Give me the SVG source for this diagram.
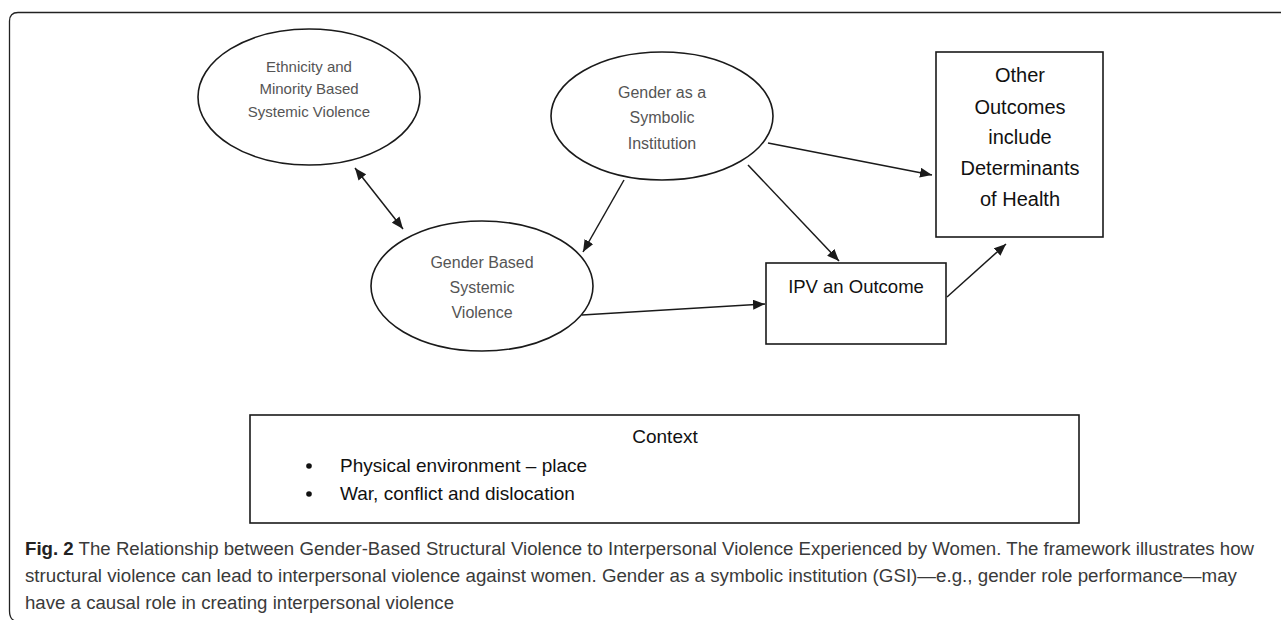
<svg xmlns="http://www.w3.org/2000/svg" width="1281" height="620" viewBox="0 0 1281 620">
<style>
.shape{fill:#fff;stroke:#1a1a1a;stroke-width:1.6}
.edge{fill:none;stroke:#1a1a1a;stroke-width:1.5}
.et{font-family:"Liberation Sans",Arial,sans-serif;fill:#555;text-anchor:middle}
.bt{font-family:"Liberation Sans",Arial,sans-serif;fill:#111;text-anchor:middle}
.ct{font-family:"Liberation Sans",Arial,sans-serif;fill:#111}
.cap{font-family:"Liberation Sans",Arial,sans-serif;fill:#3a3a3a;font-size:18px}
</style>
<defs>
<marker id="ah" viewBox="0 0 12 10" refX="12" refY="5" markerWidth="12" markerHeight="10" markerUnits="userSpaceOnUse" orient="auto-start-reverse">
<path d="M0,0 L12,5 L0,10 z" fill="#1a1a1a"/>
</marker>
</defs>
<rect width="1281" height="620" fill="#fff"/>
<path d="M1281,12.5 H18 Q9.5,12.5 9.5,21 V611 Q9.5,619 15,621" fill="none" stroke="#222" stroke-width="1.3"/>

<g id="connectors">
<line class="edge" x1="355" y1="168" x2="403" y2="229" marker-start="url(#ah)" marker-end="url(#ah)"/>
<line class="edge" x1="624" y1="180" x2="583" y2="252" marker-end="url(#ah)"/>
<line class="edge" x1="768" y1="143" x2="932" y2="175" marker-end="url(#ah)"/>
<line class="edge" x1="748" y1="165" x2="839" y2="261" marker-end="url(#ah)"/>
<line class="edge" x1="582" y1="315" x2="765" y2="304" marker-end="url(#ah)"/>
<line class="edge" x1="947" y1="297" x2="1006" y2="244" marker-end="url(#ah)"/>
</g>

<g id="ethnicity">
<ellipse class="shape" cx="309" cy="97" rx="111" ry="68"/>
<text class="et" font-size="15" x="309" y="72">Ethnicity and</text>
<text class="et" font-size="15" x="309" y="94">Minority Based</text>
<text class="et" font-size="15" x="309" y="117">Systemic Violence</text>
</g>

<g id="gsi">
<ellipse class="shape" cx="662" cy="116" rx="111" ry="64"/>
<text class="et" font-size="16" x="662" y="98">Gender as a</text>
<text class="et" font-size="16" x="662" y="123">Symbolic</text>
<text class="et" font-size="16" x="662" y="149">Institution</text>
</g>

<g id="gbsv">
<ellipse class="shape" cx="482" cy="286" rx="111" ry="65"/>
<text class="et" font-size="16" x="482" y="268">Gender Based</text>
<text class="et" font-size="16" x="482" y="293">Systemic</text>
<text class="et" font-size="16" x="482" y="318">Violence</text>
</g>

<g id="other">
<rect class="shape" x="936" y="52" width="167" height="185"/>
<text class="bt" font-size="20" x="1020" y="82">Other</text>
<text class="bt" font-size="20" x="1020" y="114">Outcomes</text>
<text class="bt" font-size="20" x="1020" y="144">include</text>
<text class="bt" font-size="20" x="1020" y="175">Determinants</text>
<text class="bt" font-size="20" x="1020" y="206">of Health</text>
</g>

<g id="ipv">
<rect class="shape" x="766" y="263" width="180" height="81"/>
<text class="bt" font-size="18.5" x="856" y="293">IPV an Outcome</text>
</g>

<g id="context">
<rect class="shape" x="250" y="415" width="829" height="108"/>
<text class="bt" font-size="19" x="665" y="443">Context</text>
<circle cx="309" cy="466" r="2.8" fill="#111"/>
<circle cx="309" cy="494" r="2.8" fill="#111"/>
<text class="ct" font-size="19" x="340" y="472">Physical environment – place</text>
<text class="ct" font-size="19" x="340" y="500">War, conflict and dislocation</text>
</g>

<g id="caption">
<text class="cap" x="25" y="555" textLength="1229" lengthAdjust="spacingAndGlyphs"><tspan font-weight="bold" fill="#222">Fig. 2</tspan> The Relationship between Gender-Based Structural Violence to Interpersonal Violence Experienced by Women. The framework illustrates how</text>
<text class="cap" x="25" y="582" textLength="1212" lengthAdjust="spacingAndGlyphs">structural violence can lead to interpersonal violence against women. Gender as a symbolic institution (GSI)—e.g., gender role performance—may</text>
<text class="cap" x="25" y="609" textLength="429" lengthAdjust="spacingAndGlyphs">have a causal role in creating interpersonal violence</text>
</g>
</svg>
